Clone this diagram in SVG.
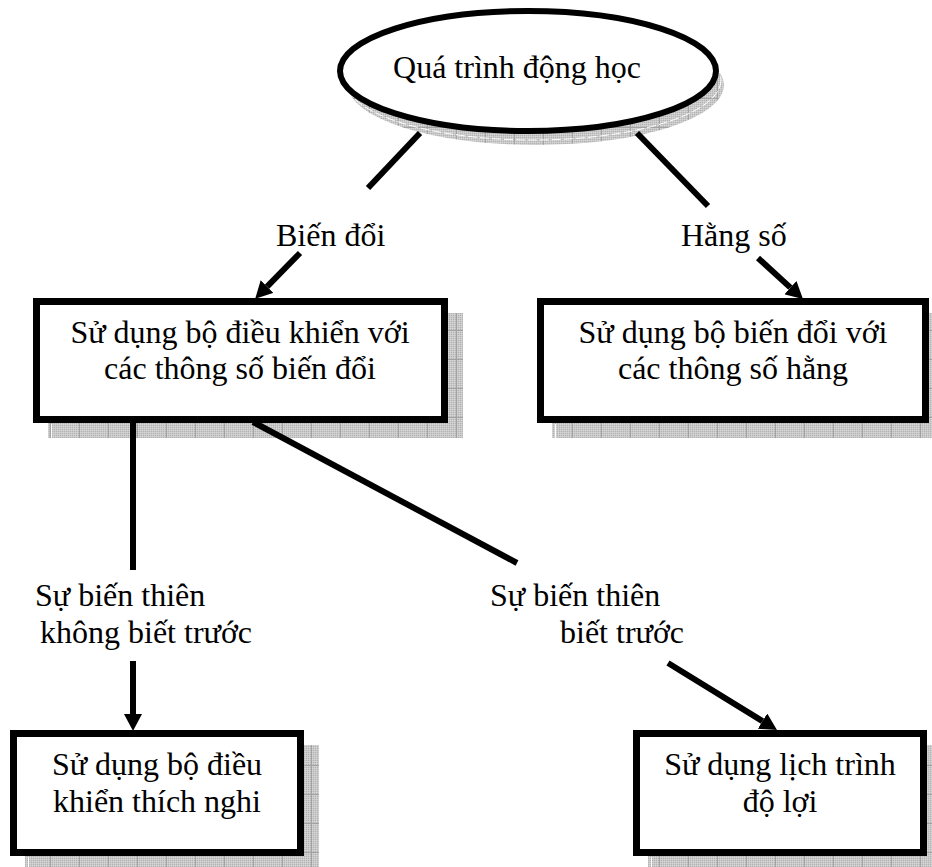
<svg xmlns="http://www.w3.org/2000/svg" width="932" height="867" viewBox="0 0 932 867">
  <style>
    text { font-family: "Liberation Serif", "Times New Roman", serif; font-size: 32px; fill: #000; }
    .mid { text-anchor: middle; }
    .frame { fill: #fff; stroke: #000; stroke-width: 7; }
    .shadow { fill: url(#shade); }
    .edge { stroke: #fff; stroke-width: 1; }
    .link { fill: none; stroke: #000; stroke-width: 6; }
    .arrow { marker-end: url(#head); }
  </style>
  <defs>
    <!-- fine dither used as the base tone of drop shadows -->
    <pattern id="dither" width="2" height="2" patternUnits="userSpaceOnUse">
      <rect width="2" height="2" fill="#c9c9c9"/>
      <rect width="1" height="1" fill="#b3b3b3"/>
      <rect x="1" y="1" width="1" height="1" fill="#d6d6d6"/>
    </pattern>
    <!-- grid texture for drop shadows -->
    <pattern id="shade" width="29" height="29" patternUnits="userSpaceOnUse" x="21" y="11">
      <rect width="29" height="29" fill="url(#dither)"/>
      <line x1="0.5" y1="0" x2="0.5" y2="29" stroke="#a2a2a2" stroke-width="1"/>
      <line x1="0" y1="0.5" x2="29" y2="0.5" stroke="#a2a2a2" stroke-width="1"/>
    </pattern>
    <marker id="head" markerUnits="userSpaceOnUse" markerWidth="17" markerHeight="18" refX="0" refY="9" orient="auto">
      <path d="M0,0 L17,9 L0,18 z" fill="#000"/>
    </marker>
  </defs>

  <rect width="932" height="867" fill="#fff"/>

  <!-- top: process ellipse -->
  <g id="node-process">
    <ellipse class="shadow" cx="536" cy="85" rx="188" ry="60"/>
    <ellipse cx="533" cy="80" rx="188" ry="60" fill="none" stroke="#fff" stroke-width="1" stroke-dasharray="9 3"/>
    <ellipse cx="528" cy="71" rx="188" ry="60" fill="#fff" stroke="#000" stroke-width="6"/>
    <text class="mid" x="517" y="78">Quá trình động học</text>
  </g>

  <!-- middle row -->
  <g id="node-variable">
    <rect class="shadow" x="48" y="313" width="415" height="125"/>
    <line class="edge" x1="51.5" y1="424" x2="51.5" y2="438"/>
    <rect class="frame" x="36.5" y="301.5" width="408" height="118"/>
    <text class="mid" x="240" y="343">Sử dụng bộ điều khiển với</text>
    <text class="mid" x="240" y="379">các thông số biến đổi</text>
  </g>

  <g id="node-constant">
    <rect class="shadow" x="552" y="313" width="392" height="125"/>
    <line class="edge" x1="555.5" y1="424" x2="555.5" y2="438"/>
    <rect class="frame" x="540.5" y="301.5" width="385" height="118"/>
    <text class="mid" x="733" y="343">Sử dụng bộ biến đổi với</text>
    <text class="mid" x="733" y="379">các thông số hằng</text>
  </g>

  <!-- bottom row -->
  <g id="node-adaptive">
    <rect class="shadow" x="25" y="745" width="294" height="126"/>
    <line class="edge" x1="28.5" y1="857" x2="28.5" y2="867"/>
    <rect class="frame" x="13.5" y="733.5" width="287" height="119"/>
    <text class="mid" x="157" y="775">Sử dụng bộ điều</text>
    <text class="mid" x="157" y="812">khiển thích nghi</text>
  </g>

  <g id="node-gain">
    <rect class="shadow" x="648" y="745" width="294" height="126"/>
    <line class="edge" x1="651.5" y1="857" x2="651.5" y2="867"/>
    <rect class="frame" x="636.5" y="733.5" width="287" height="119"/>
    <text class="mid" x="780" y="775">Sử dụng lịch trình</text>
    <text class="mid" x="780" y="812">độ lợi</text>
  </g>

  <!-- connectors and their labels -->
  <g id="connectors">
    <line class="link" x1="420" y1="133" x2="368" y2="188"/>
    <text x="276" y="246">Biến đổi</text>
    <line class="link arrow" x1="300" y1="253" x2="267.1" y2="286.6"/>

    <line class="link" x1="637" y1="133" x2="708" y2="206"/>
    <text x="681" y="246">Hằng số</text>
    <line class="link arrow" x1="758" y1="258" x2="790.4" y2="287.6"/>

    <line class="link" x1="133" y1="423" x2="133" y2="570"/>
    <text x="35" y="606">Sự biến thiên</text>
    <text x="40" y="643">không biết trước</text>
    <line class="link arrow" x1="133" y1="661" x2="133" y2="714"/>

    <line class="link" x1="253" y1="422" x2="517" y2="563"/>
    <text x="490" y="606">Sự biến thiên</text>
    <text x="560" y="643">biết trước</text>
    <line class="link arrow" x1="668" y1="663" x2="762.5" y2="721.1"/>
  </g>
</svg>
